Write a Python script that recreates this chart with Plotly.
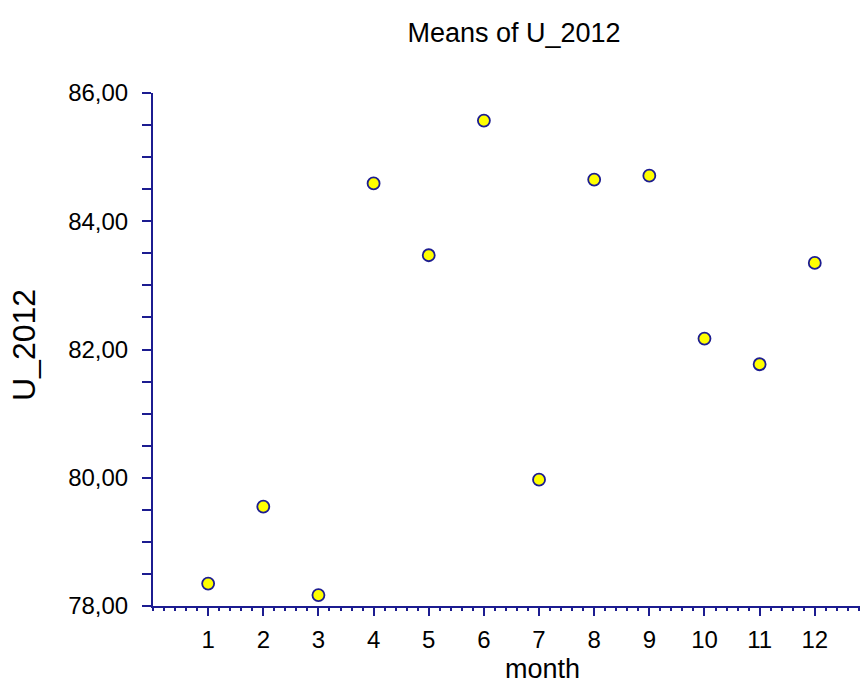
import plotly.graph_objects as go

months = [1, 2, 3, 4, 5, 6, 7, 8, 9, 10, 11, 12]
means = [78.35, 79.55, 78.17, 84.59, 83.47, 85.57, 79.97, 84.65, 84.71, 82.17, 81.77, 83.35]
x_ticks = [1, 2, 3, 4, 5, 6, 7, 8, 9, 10, 11, 12]
y_ticks = [78, 80, 82, 84, 86]

W, H = 861, 684
L, R, T, B = 153, 1, 93, 78
navy = "#1c1c90"
font = "Liberation Sans, Arial, sans-serif"

fig = go.Figure(go.Scatter(
    x=months, y=means, mode="markers",
    marker=dict(symbol="circle", size=12, color="#ffff00",
                line=dict(color=navy, width=1.8)),
    showlegend=False,
))

fig.update_layout(
    width=W, height=H,
    margin=dict(l=L, r=R, t=T, b=B),
    paper_bgcolor="white", plot_bgcolor="white",
    separators=",.",
    font=dict(family=font, color="black", size=24),
    title=dict(text="Means of U_2012", x=514 / W, xref="container", xanchor="center",
               y=1 - 33 / H, yref="container", yanchor="middle",
               font=dict(family=font, size=27, color="black")),
    xaxis=dict(range=[0, 12.82], tickvals=x_ticks, ticktext=[str(v) for v in x_ticks],
               showgrid=False, zeroline=False, showline=True, linecolor=navy, linewidth=2,
               ticks="outside", ticklen=8, tickwidth=2, tickcolor=navy,
               ticklabelstandoff=3,
               minor=dict(dtick=0.2, tick0=0, ticks="outside", ticklen=3, tickwidth=1.5,
                          tickcolor=navy, showgrid=False),
               tickfont=dict(size=24, family=font)),
    yaxis=dict(range=[78, 86], tickvals=y_ticks, tickformat=".2f",
               showgrid=False, zeroline=False, showline=True, linecolor=navy, linewidth=2,
               ticks="outside", ticklen=9, tickwidth=2, tickcolor=navy,
               ticklabelstandoff=9,
               minor=dict(dtick=0.5, tick0=78, ticks="outside", ticklen=9, tickwidth=1.5,
                          tickcolor=navy, showgrid=False),
               tickfont=dict(size=24, family=font)),
    annotations=[
        dict(text="month", x=542 / W, y=1 - 669 / H, xref="paper", yref="paper",
             showarrow=False, xanchor="center", yanchor="middle",
             font=dict(size=27, family=font, color="black")),
        dict(text="U_2012", x=24 / W, y=1 - 345 / H, xref="paper", yref="paper",
             showarrow=False, xanchor="center", yanchor="middle", textangle=-90,
             font=dict(size=32, family=font, color="black")),
    ],
)

# convert pixel-based annotation positions to plot-area paper coordinates
pw = W - L - R
ph = H - T - B
for a in fig.layout.annotations:
    px_x = a.x * W
    px_y = (1 - a.y) * H
    a.x = (px_x - L) / pw
    a.y = 1 - (px_y - T) / ph

fig.write_html("out.html")
